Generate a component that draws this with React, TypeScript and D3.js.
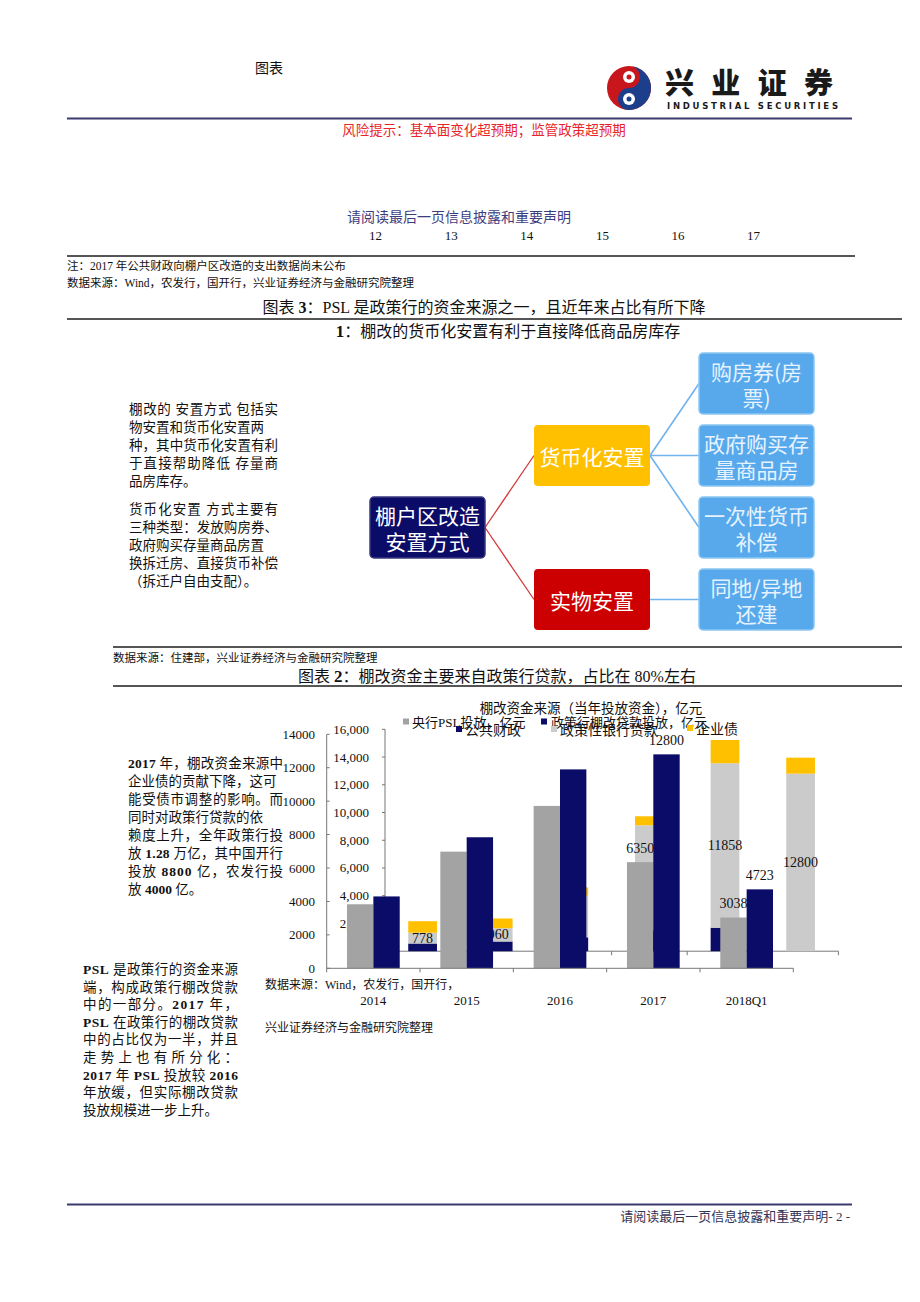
import * as d3 from 'd3';
import React from 'react';

// outer chart: PSL vs policy-bank loans
const outerCats = ['2014', '2015', '2016', '2017', '2018Q1'];
const pslValues = [3831, 6981, 9714, 6350, 3038];
const policyLoanValues = [4300, 7840, 11900, 12800, 4723];
const outerLabelled = ['2017', '2018Q1'];
const outerTicks = [0, 2000, 4000, 6000, 8000, 10000, 12000, 14000];

// inner chart: sources of funding, stacked
const innerCats = ['12', '13', '14', '15', '16', '17'];
const publicFinance = [555, 700, 1000, 1500, 1695, 0];
const policyBank = [778, 960, 3000, 7578, 11858, 12800];
const corpBond = [830, 700, 600, 650, 1677, 1155];
const innerLabelled = ['12', '13', '16', '17'];
const innerTicks = [0, 2000, 4000, 6000, 8000, 10000, 12000, 14000, 16000];

const leftBlock = [
  { t: '棚改的 安置方式 包括实', full: true },
  { t: '物安置和货币化安置两', full: false },
  { t: '种，其中货币化安置有利', full: true },
  { t: '于直接帮助降低 存量商', full: true },
  { t: '品房库存。', full: false },
  { t: '货币化安置 方式主要有', full: true },
  { t: '三种类型：发放购房券、', full: true },
  { t: '政府购买存量商品房置', full: false },
  { t: '换拆迁房、直接货币补偿', full: true },
  { t: '（拆迁户自由支配）。', full: false },
];

const FONT = '"Liberation Serif", "Noto Sans CJK SC", serif';
const CJK = '"Noto Sans CJK SC", sans-serif';
const NAVY = '#0b0b68';
const GOLD = '#ffc000';
const REDBOX = '#cc0000';
const BLUEBOX = '#58a9ec';

type Seg = { t: string; b?: boolean };
const para2: Seg[][] = [
  [{ t: '2017', b: true }, { t: ' 年，棚改资金来源中' }],
  [{ t: '企业债的贡献下降，这可' }],
  [{ t: '能受债市调整的影响。而' }],
  [{ t: '同时对政策行贷款的依' }],
  [{ t: '赖度上升，全年政策行投' }],
  [{ t: '放 ' }, { t: '1.28', b: true }, { t: ' 万亿，其中国开行' }],
  [{ t: '投放 ' }, { t: '8800', b: true }, { t: ' 亿，农发行投' }],
  [{ t: '放 ' }, { t: '4000', b: true }, { t: ' 亿。' }],
];
const para2Full = [true, false, true, false, true, true, true, false];

const para3: Seg[][] = [
  [{ t: 'PSL', b: true }, { t: ' 是政策行的资金来源' }],
  [{ t: '端，构成政策行棚改贷款' }],
  [{ t: '中的一部分。' }, { t: '2017', b: true }, { t: ' 年，' }],
  [{ t: 'PSL', b: true }, { t: ' 在政策行的棚改贷款' }],
  [{ t: '中的占比仅为一半，并且' }],
  [{ t: '走势上也有所分化：' }],
  [{ t: '2017', b: true }, { t: ' 年 ' }, { t: 'PSL', b: true }, { t: ' 投放较 ' }, { t: '2016', b: true }],
  [{ t: '年放缓，但实际棚改贷款' }],
  [{ t: '投放规模进一步上升。' }],
];
const para3Full = [true, true, true, true, true, true, true, true, false];

const Para = ({ lines, full, x, y0, dy, width, size }: any) => (
  <g fontFamily={FONT} fontSize={size} fill="#111">
    {lines.map((segs: Seg[], i: number) => (
      <text
        key={i}
        x={x}
        y={y0 + i * dy}
        dominantBaseline="central"
        {...(full[i] ? { textLength: width, lengthAdjust: 'spacing' } : {})}
      >
        {segs.map((s, j) => (
          <tspan key={j} fontWeight={s.b ? 'bold' : 'normal'}>
            {s.t}
          </tspan>
        ))}
      </text>
    ))}
  </g>
);

const Box = ({ x, y, w, h, fill, lines, color = '#fff', stroke }: any) => (
  <g>
    <rect x={x} y={y} width={w} height={h} rx={4} fill={fill} stroke={stroke || 'none'} strokeWidth={1.5} />
    {lines.map((l: string, i: number) => (
      <text
        key={i}
        x={x + w / 2}
        y={y + h / 2 + (i - (lines.length - 1) / 2) * 26}
        textAnchor="middle"
        dominantBaseline="central"
        fontFamily={CJK}
        fontSize={21}
        fill={color}
      >
        {l}
      </text>
    ))}
  </g>
);

export default function App() {
  // outer scales
  const xOuter = d3.scaleBand<string>().domain(outerCats).range([326.7, 793.3]).paddingInner(0.435).paddingOuter(0.2175);
  const xSub = d3.scaleBand<string>().domain(['psl', 'loan']).range([0, xOuter.bandwidth()]);
  const yOuter = d3.scaleLinear().domain([0, 14000]).range([968.3, 734.3]);

  // inner scales
  const xInner = d3.scaleBand<string>().domain(innerCats).range([384.8, 838.4]).paddingInner(0.62).paddingOuter(0.31);
  const yInner = d3.scaleLinear().domain([0, 16000]).range([951.2, 729.3]);
  const innerRows = innerCats.map((c, i) => ({ cat: c, pf: publicFinance[i], pb: policyBank[i], cb: corpBond[i] }));
  const stacked = d3.stack<any>().keys(['pf', 'pb', 'cb'])(innerRows);
  const innerColors: Record<string, string> = { pf: NAVY, pb: '#cbcbcb', cb: GOLD };

  const outerEdges = outerCats.map((c) => (xOuter(c) as number) - xOuter.step() * 0.2175).concat([793.3]);
  const innerEdges = innerCats.map((c) => (xInner(c) as number) - xInner.step() * 0.31).concat([838.4]);

  // diagram geometry
  const root = { x: 370, y: 497, w: 115, h: 61 };
  const mid = [
    { x: 534, y: 425, w: 116, h: 61, fill: GOLD, lines: ['货币化安置'] },
    { x: 534, y: 569, w: 116, h: 61, fill: REDBOX, lines: ['实物安置'] },
  ];
  const leaves = [
    { y: 353, lines: ['购房券(房', '票)'], parent: 0 },
    { y: 425, lines: ['政府购买存', '量商品房'], parent: 0 },
    { y: 497, lines: ['一次性货币', '补偿'], parent: 0 },
    { y: 569, lines: ['同地/异地', '还建'], parent: 1 },
  ];

  return (
    <svg width={920} height={1302} style={{ position: 'absolute', left: 0, top: 0, background: '#fff' }}>
      <rect width={920} height={1302} fill="#fff" />

      {/* header */}
      <text x={255} y={67} fontFamily={CJK} fontSize={14} dominantBaseline="central" fill="#111">图表</text>
      <g>
        <circle cx={629} cy={88} r={22} fill="#c8161d" />
        <path d="M629,66 A22,22 0 0 1 629,110 A11,11 0 0 1 629,88 A11,11 0 0 0 629,66 Z" fill="#1d3e8a" />
        <circle cx={629} cy={77} r={6} fill="#fff" />
        <circle cx={629} cy={99} r={6} fill="#fff" />
        <circle cx={629} cy={77} r={2.5} fill="#c8161d" />
        <circle cx={629} cy={99} r={2.5} fill="#1d3e8a" />
        <text x={665} y={81} fontFamily={CJK} fontWeight={900} fontSize={29} textLength={168} lengthAdjust="spacing" dominantBaseline="central" fill="#1a1a1a">兴业证券</text>
        <text x={667} y={105.5} fontFamily='"DejaVu Sans", sans-serif' fontWeight="bold" fontSize={8.5} textLength={171} lengthAdjust="spacing" dominantBaseline="central" fill="#1a1a1a">INDUSTRIAL SECURITIES</text>
      </g>
      <line x1={67} x2={852} y1={118.5} y2={118.5} stroke="#3a3a6e" strokeWidth={2} />
      <text x={484} y={129} textAnchor="middle" fontFamily={CJK} fontSize={13.5} dominantBaseline="central" fill="#e8252a">风险提示：基本面变化超预期；监管政策超预期</text>

      <text x={459} y={216} textAnchor="middle" fontFamily={CJK} fontSize={14} dominantBaseline="central" fill="#3e3e7e">请阅读最后一页信息披露和重要声明</text>
      {innerCats.map((c) => (
        <text key={c} x={(xInner(c) as number) + xInner.bandwidth() / 2 - 47} y={235} textAnchor="middle" fontFamily={FONT} fontSize={13} dominantBaseline="central" fill="#111">{c}</text>
      ))}
      <line x1={67} x2={855} y1={256} y2={256} stroke="#555" strokeWidth={2} />
      <text x={67} y={266} fontFamily={FONT} fontSize={11.5} dominantBaseline="central" fill="#111">注：2017 年公共财政向棚户区改造的支出数据尚未公布</text>
      <text x={67} y={283} fontFamily={FONT} fontSize={11.5} dominantBaseline="central" fill="#111">数据来源：Wind，农发行，国开行，兴业证券经济与金融研究院整理</text>
      <text x={484} y={307} textAnchor="middle" fontFamily={FONT} fontSize={16} dominantBaseline="central" fill="#111">
        图表 <tspan fontWeight="bold" fontSize={16}>3</tspan>：PSL 是政策行的资金来源之一，且近年来占比有所下降
      </text>
      <line x1={67} x2={902} y1={319} y2={319} stroke="#555" strokeWidth={2} />
      <text x={508} y={331} textAnchor="middle" fontFamily={FONT} fontSize={16} dominantBaseline="central" fill="#111">
        <tspan fontWeight="bold" fontSize={17}>1</tspan>：棚改的货币化安置有利于直接降低商品房库存
      </text>

      {/* left description of the diagram */}
      <g fontFamily={FONT} fontSize={13.5} fill="#111">
        {leftBlock.map((l, i) => (
          <text
            key={i}
            x={129}
            y={409 + i * 18 + (i >= 5 ? 10 : 0)}
            dominantBaseline="central"
            {...(l.full ? { textLength: 149, lengthAdjust: 'spacing' } : {})}
          >
            {l.t}
          </text>
        ))}
      </g>

      {/* diagram connectors */}
      {mid.map((m, i) => (
        <line key={'r' + i} x1={root.x + root.w} y1={root.y + root.h / 2} x2={m.x} y2={m.y + m.h / 2} stroke="#d23a3a" strokeWidth={1.3} />
      ))}
      {leaves.map((l, i) => {
        const p = mid[l.parent];
        return <line key={'b' + i} x1={p.x + p.w} y1={p.y + p.h / 2} x2={699} y2={l.y + 30.5} stroke="#6fb3ef" strokeWidth={1.6} />;
      })}
      <Box {...root} fill={NAVY} lines={['棚户区改造', '安置方式']} stroke="#3a3a80" />
      {mid.map((m, i) => (
        <Box key={i} {...m} />
      ))}
      {leaves.map((l, i) => (
        <Box key={i} x={699} y={l.y} w={115} h={61} fill={BLUEBOX} lines={l.lines} color="#e6f3ff" stroke="#8cc6f4" />
      ))}

      <line x1={113} x2={902} y1={647} y2={647} stroke="#555" strokeWidth={2} />
      <text x={113} y={658} fontFamily={FONT} fontSize={11.5} dominantBaseline="central" fill="#111">数据来源：住建部，兴业证券经济与金融研究院整理</text>
      <text x={497} y={676} textAnchor="middle" fontFamily={FONT} fontSize={16} dominantBaseline="central" fill="#111">
        图表 <tspan fontWeight="bold" fontSize={17}>2</tspan>：棚改资金主要来自政策行贷款，占比在 80%左右
      </text>
      <line x1={113} x2={902} y1={686} y2={686} stroke="#555" strokeWidth={2} />

      <Para lines={para2} full={para2Full} x={128} y0={763} dy={18} width={155} size={13.5} />
      <Para lines={para3} full={para3Full} x={83} y0={969} dy={17.6} width={155} size={13.5} />

      {/* chart title */}
      <text x={591} y={708} textAnchor="middle" fontFamily={FONT} fontSize={13.5} dominantBaseline="central" fill="#111">棚改资金来源（当年投放资金），亿元</text>

      {/* ---- inner chart (drawn first, covered by outer bars) ---- */}
      <line x1={385} x2={385} y1={yInner(16000)} y2={yInner(0)} stroke="#777" />
      {innerTicks.map((t) => (
        <g key={t}>
          <line x1={382} x2={385} y1={yInner(t)} y2={yInner(t)} stroke="#777" />
          <text x={369} y={yInner(t)} textAnchor="end" dominantBaseline="central" fontFamily={FONT} fontSize={13} fill="#111">
            {d3.format(',')(t)}
          </text>
        </g>
      ))}
      <line x1={384.8} x2={838.4} y1={yInner(0)} y2={yInner(0)} stroke="#777" />
      {innerEdges.map((e, i) => (
        <line key={i} x1={e} x2={e} y1={yInner(0)} y2={yInner(0) + 4} stroke="#777" />
      ))}
      {stacked.map((s) => (
        <g key={s.key} fill={innerColors[s.key]}>
          {s.map((d, i) => (
            <rect key={i} x={xInner(innerCats[i])} width={xInner.bandwidth()} y={yInner(d[1])} height={yInner(d[0]) - yInner(d[1])} />
          ))}
        </g>
      ))}
      {stacked[1].map((d, i) =>
        innerLabelled.includes(innerCats[i]) ? (
          <text key={i} x={(xInner(innerCats[i]) as number) + xInner.bandwidth() / 2} y={(yInner(d[0]) + yInner(d[1])) / 2} textAnchor="middle" dominantBaseline="central" fontFamily={FONT} fontSize={14} fill="#111">
            {policyBank[i]}
          </text>
        ) : null,
      )}

      {/* ---- outer chart ---- */}
      {outerCats.map((c, i) => (
        <g key={c}>
          <rect x={(xOuter(c) as number) + (xSub('psl') as number)} width={xSub.bandwidth()} y={yOuter(pslValues[i])} height={yOuter(0) - yOuter(pslValues[i])} fill="#a3a3a3" />
          <rect x={(xOuter(c) as number) + (xSub('loan') as number)} width={xSub.bandwidth()} y={yOuter(policyLoanValues[i])} height={yOuter(0) - yOuter(policyLoanValues[i])} fill={NAVY} />
          {outerLabelled.includes(c) && (
            <>
              <text x={(xOuter(c) as number) + (xSub('psl') as number) + xSub.bandwidth() / 2} y={yOuter(pslValues[i]) - 14} textAnchor="middle" dominantBaseline="central" fontFamily={FONT} fontSize={14} fill="#111">{pslValues[i]}</text>
              <text x={(xOuter(c) as number) + (xSub('loan') as number) + xSub.bandwidth() / 2} y={yOuter(policyLoanValues[i]) - 14} textAnchor="middle" dominantBaseline="central" fontFamily={FONT} fontSize={14} fill="#111">{policyLoanValues[i]}</text>
            </>
          )}
          <text x={(xOuter(c) as number) + xOuter.bandwidth() / 2} y={1000} textAnchor="middle" dominantBaseline="central" fontFamily={FONT} fontSize={13} fill="#111">{c}</text>
        </g>
      ))}
      <line x1={326.7} x2={326.7} y1={yOuter(14000)} y2={yOuter(0)} stroke="#777" />
      {outerTicks.map((t) => (
        <g key={t}>
          <line x1={326.7} x2={329.7} y1={yOuter(t)} y2={yOuter(t)} stroke="#777" />
          <text x={315} y={yOuter(t)} textAnchor="end" dominantBaseline="central" fontFamily={FONT} fontSize={13} fill="#111">{t}</text>
        </g>
      ))}
      <line x1={326.7} x2={793.3} y1={yOuter(0)} y2={yOuter(0)} stroke="#777" />
      {outerEdges.map((e, i) => (
        <line key={i} x1={e} x2={e} y1={yOuter(0)} y2={yOuter(0) + 4} stroke="#777" />
      ))}

      {/* legends */}
      <g fontFamily={FONT} fontSize={13} fill="#111">
        <rect x={403} y={718.5} width={6} height={6} fill="#a3a3a3" />
        <text x={412} y={722} dominantBaseline="central">央行PSL投放，亿元</text>
        <rect x={541} y={718.5} width={6} height={6} fill={NAVY} />
        <text x={551} y={722} dominantBaseline="central">政策行棚改贷款投放，亿元</text>
      </g>
      <g fontFamily={FONT} fontSize={14} fill="#111">
        <rect x={456} y={726} width={6} height={6} fill={NAVY} />
        <text x={465} y={730} dominantBaseline="central">公共财政</text>
        <rect x={551} y={726} width={6} height={6} fill="#cbcbcb" />
        <text x={560} y={730} dominantBaseline="central">政策性银行贷款</text>
        <rect x={687} y={725} width={6} height={6} fill={GOLD} />
        <text x={696} y={729} dominantBaseline="central">企业债</text>
      </g>

      <text x={265} y={985} fontFamily={FONT} fontSize={12} dominantBaseline="central" fill="#111">数据来源：Wind，农发行，国开行，</text>
      <text x={265} y={1028} fontFamily={FONT} fontSize={12} dominantBaseline="central" fill="#111">兴业证券经济与金融研究院整理</text>

      {/* footer */}
      <line x1={67} x2={852} y1={1204.5} y2={1204.5} stroke="#3a3a6e" strokeWidth={2} />
      <text x={850} y={1216} textAnchor="end" fontFamily={FONT} fontSize={13} dominantBaseline="central" fill="#333355">请阅读最后一页信息披露和重要声明- 2 -</text>
    </svg>
  );
}
